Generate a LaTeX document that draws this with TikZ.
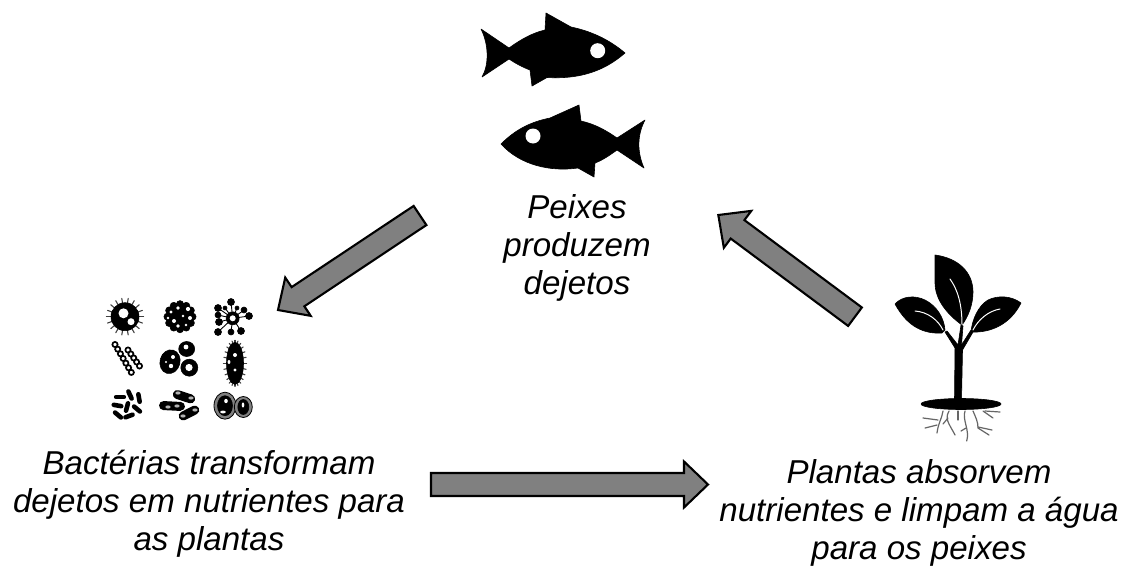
\documentclass[tikz,border=0pt]{standalone}
\usepackage{fontspec}
\setmainfont{Liberation Sans}
\usetikzlibrary{calc}
\tikzset{
  caption/.style={align=center,font=\fontsize{33.1}{38}\selectfont\itshape,inner sep=0pt},
  ink/.style={fill=black,draw=black,line width=0.6pt,line join=round},
  hole/.style={fill=white},
  vein/.style={draw=white,line width=1pt,line cap=round},
  rootline/.style={draw=black!60,line width=1.2pt,line cap=round},
  blockarrow/.style={fill=black!50,draw=black,line width=2.1pt,line join=miter},
  hair/.style={draw=black!75,line width=1.1pt,line cap=round},
  bead/.style={fill=white,draw=black,line width=1.7pt},
  halo/.style={fill=black!50,draw=black,line width=0.8pt}
}
% Broad arrow with a shaft and a triangular head, running from coordinate #1 to coordinate #2
\newcommand{\blockarrowpath}[2]{%
  \coordinate (hb) at ($(#2)!24pt!(#1)$);
  \draw[blockarrow] ($(#1)!11.5pt!90:(#2)$) -- ($(hb)!11.5pt!-90:(#1)$) -- ($(hb)!23pt!-90:(#1)$) -- (#2)
    -- ($(hb)!23pt!90:(#1)$) -- ($(hb)!11.5pt!90:(#1)$) -- ($(#1)!11.5pt!-90:(#2)$) -- cycle;
}
\begin{document}
\begin{tikzpicture}[x=1pt,y=-1pt]
\useasboundingbox (0,0) rectangle (1124,565);
\fill[white] (0,0) rectangle (1124,565);

% Upper fish, swimming right
\fill[ink] (481,29) -- (509,48) .. controls (520,40) and (532,33) .. (545,30) -- (546,13) -- (571,27)
  .. controls (595,32) and (612,42) .. (625,53) .. controls (612,64) and (590,80) .. (547,77.5) -- (532,86) -- (530,70)
  .. controls (522,67) and (515,63) .. (509,59) -- (482,77) .. controls (489,65) and (489,45) .. cycle;
\fill[hole] (597.7,50.7) circle (7.5);

% Lower fish, swimming left
\fill[ink] (501,144) .. controls (515,130) and (530,122) .. (550,118) -- (579,105) -- (581,121)
  .. controls (595,124) and (607,131) .. (617,138) -- (645,120) .. controls (637,135) and (637,152) .. (644,168)
  -- (617,150) .. controls (610,155) and (603,160) .. (595,163) -- (594,177) -- (578,168)
  .. controls (550,172) and (520,165) .. (501,144) -- cycle;
\fill[hole] (533,136) circle (7.5);

% Seedling: leaves
\fill[ink] (935,255) .. controls (958,258) and (973,272) .. (973,292) .. controls (973,305) and (968,317) .. (962,325)
  .. controls (948,315) and (935,300) .. (935,283) -- cycle;
\fill[ink] (895,304) .. controls (902,296) and (915,295) .. (925,300) .. controls (937,306) and (944,318) .. (945,330)
  -- (942,333) .. controls (925,334) and (908,328) .. cycle;
\fill[ink] (1021,303) .. controls (1012,296) and (998,295) .. (988,300) .. controls (978,306) and (972,320) .. (971,332)
  .. controls (990,333) and (1010,325) .. cycle;
\draw[vein] (950,279) .. controls (958,290) and (962,305) .. (962,325);
\draw[vein] (915,311) .. controls (928,312) and (938,320) .. (943,330);
\draw[vein] (1000,309) .. controls (988,311) and (978,320) .. (973,330);

% Seedling: stem, soil and roots
\fill[ink] (955,348) -- (945,332) -- (947,331) -- (958,345) -- (961,325) -- (963,326) -- (961.5,345) -- (971,330) -- (973,332) -- (962.5,350) -- (961.5,400) -- (954.5,400) -- cycle;
\fill[ink] (961,404) ellipse (40 and 5.5);
\foreach \p in {
  {(965,411) .. controls (962,420) and (970,430) .. (966.7,441)},
  {(966,428) -- (961,431)},
  {(943,411) .. controls (942,418) and (938,424) .. (937,433)},
  {(949,411) .. controls (946,416) and (947,420) .. (949,424) .. controls (951,428) and (953,431) .. (955,435)},
  {(958,411) -- (958,420)},
  {(973,411) .. controls (976,418) and (978,422) .. (978,428) -- (989,435)},
  {(978,427) -- (992,430)},
  {(983,411) -- (993,418)},
  {(985,411) -- (1000,412)},
  {(938,420) -- (923,418)},
  {(937,425) -- (925,428)},
  {(948,418) -- (943,424)}}
  {\draw[rootline] \p;}

% Microbes, top row
\foreach \a in {0,20,...,340} {\draw[hair] (125,316.7) ++(\a:13) -- ++(\a:5.5);}
\fill[ink] (125,316.7) circle (14);
\fill[hole] (123.5,313.3) circle (5);
\fill[hole] (131,321.7) circle (3.5);

\foreach \a in {0,30,...,330} {\fill[ink] (180,316.7) ++(\a:12.5) circle (3.6);}
\fill[ink] (180,316.7) circle (13.5);
\foreach \x/\y/\r in {178/308/1.8,188/309/2.1,171/312/1.6,174/321/2,183/316/1.4,190/318/2,178/326/1.8,186/325/1.4,168/318/1.3} {\fill[hole] (\x,\y) circle (\r);}

\foreach \x/\y/\r in {231/302/3.5,218/308/3.5,225/308/2,237/308/2,244/310/3,249/316/3.5,218/315/3,219/322/3.5,218/332/3.5,231/332/3,241/331/3.5} {
  \draw[black,line width=0.9pt] (232.7,318.3) -- (\x,\y);
  \fill[ink] (\x,\y) circle (\r);
}
\fill[ink] (232.7,318.3) circle (6.5);
\fill[hole] (232.7,318.3) circle (3);

% Microbes, middle row
\foreach \t in {0,0.143,...,1} {\path[bead] ($(115,344.5)!\t!(134,377)$) circle (2.6);}
\foreach \t in {0,0.25,...,1} {\path[bead] ($(128,350)!\t!(139.5,366)$) circle (2.6);}
\fill[ink,rotate around={-15:(170,361.7)}] (170,361.7) ellipse (10 and 12);
\fill[ink] (186.7,349) ellipse (8 and 7.5);
\fill[ink] (189.3,367.7) ellipse (8.5 and 8.5);
\fill[hole] (186,347) circle (2.4);
\fill[hole] (189,367.5) circle (3.6);
\fill[hole] (173,357) circle (2);
\fill[hole] (171,366) circle (2.2);
\fill[hole] (166,362) circle (1.2);
\foreach \a in {-90,-75,...,255} {\draw[hair] (235,363.3) ++({8.5*cos(\a)},{21*sin(\a)}) -- ++({3*cos(\a)},{2*sin(\a)});}
\fill[ink] (235,363.3) ellipse (8.5 and 21);
\fill[hole] (235,355) circle (2);
\fill[hole] (229,362) ellipse (1.4 and 2);
\fill[hole] (235,370) circle (1.6);

% Microbes, bottom row
\foreach \x/\y/\a in {120/397/0,130/395/65,139/398/80,117.5/405.5/10,127/407/105,137/409/40,118/415/40,129/416/-20} {
  \draw[black,line width=4.6pt,line cap=round] (\x,\y) ++(\a:-3.8) -- ++(\a:7.6);
}
\foreach \x/\y/\a/\l in {184/396.7/18/14,172/406/3/17,189/413/-27/13} {
  \draw[white,line width=11.2pt,line cap=round] (\x,\y) ++(\a:-\l/2) -- ++(\a:\l);
  \draw[black,line width=9pt,line cap=round] (\x,\y) ++(\a:-\l/2) -- ++(\a:\l);
}
\foreach \x/\y in {178/393,191/398,168/407,177/406,183/416,195/410} {\fill[black!30] (\x,\y) ellipse (2.6 and 1.6);}

\fill[halo] (225,405.7) ellipse (11 and 13.5);
\fill[ink] (225,405.7) ellipse (7.5 and 10);
\fill[hole] (226,401) ellipse (1.8 and 2.2);
\fill[hole] (223,412) ellipse (2.8 and 1.4);
\fill[halo] (243.3,407) ellipse (9 and 10.5);
\fill[ink] (243.3,407) ellipse (5.5 and 7.5);
\fill[hole] (243,405) ellipse (1.3 and 2.6);

% Captions
\node[caption] (fishcap) at (577,247.5) {Peixes\\produzem\\dejetos};
\node[caption] (bactcap) at (209,504) {Bactérias transformam\\dejetos em nutrientes para\\as plantas};
\node[caption] (plantcap) at (919,513) {Plantas absorvem\\nutrientes e limpam a água\\para os peixes};

% Cycle arrows between the three stages
\coordinate (bactout) at (431,484.5);
\coordinate (plantin) at (708,484.5);
\coordinate (plantout) at (855,316.7);
\coordinate (fishin) at (718.3,215);
\coordinate (fishout) at (420,215.5);
\coordinate (bactin) at (278,310);
\blockarrowpath{bactout}{plantin}
\blockarrowpath{plantout}{fishin}
\blockarrowpath{fishout}{bactin}
\end{tikzpicture}
\end{document}
